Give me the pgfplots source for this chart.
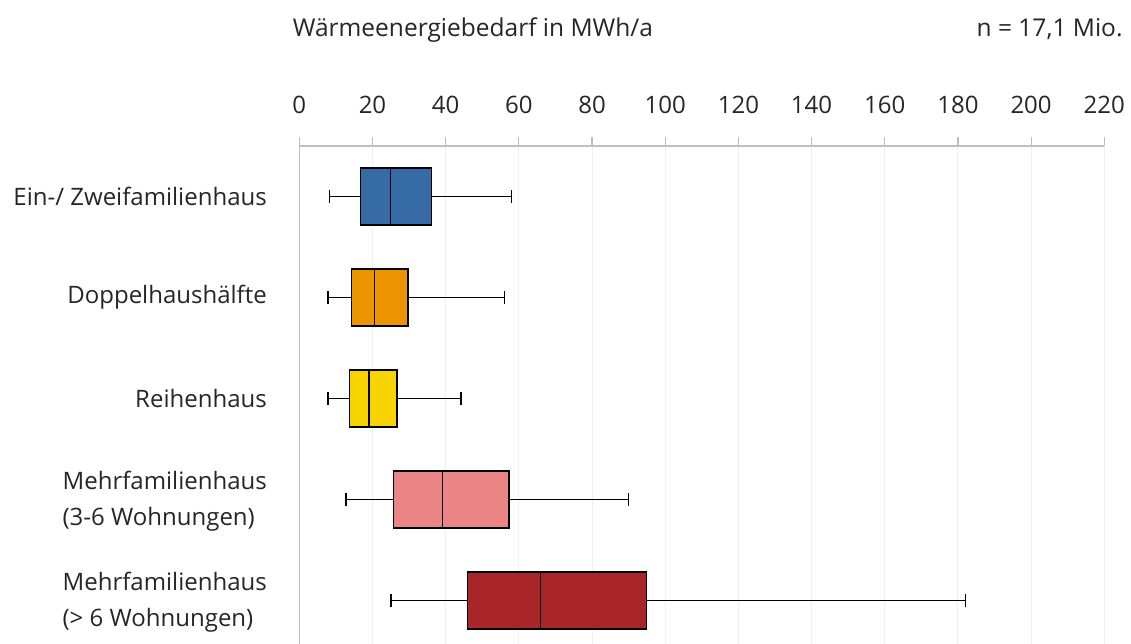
\documentclass[border=0pt]{standalone}
\usepackage{pgfplots}
\pgfplotsset{compat=1.18}
\usepgfplotslibrary{statistics}
\usepackage{fontspec}
\setmainfont{Open Sans}
\definecolor{cEZ}{HTML}{376BA6}
\definecolor{cDH}{HTML}{EB9400}
\definecolor{cRH}{HTML}{F7D300}
\definecolor{cMF}{HTML}{EB8485}
\definecolor{cMG}{HTML}{A8262A}
\newcommand{\lbl}{\fontsize{24bp}{36bp}\selectfont}
\newcommand{\ttl}{\fontsize{24.5bp}{36bp}\selectfont}
\begin{document}
\begin{tikzpicture}
\begin{axis}[
  at={(0,0)}, anchor=north west, scale only axis,
  x=3.659bp, y=101bp, y dir=reverse,
  xmin=0, xmax=220, ymin=0.5, ymax=5.43,
  axis x line*=top, axis y line*=left,
  axis line style={draw=black!25, line width=1.2bp},
  xtick={0,20,...,220}, ytick=\empty,
  tick align=outside, major tick length=9bp,
  xtick style={draw=black!25, line width=1.2bp},
  xmajorgrids, major grid style={draw=black!6, line width=1bp},
  xticklabel style={font=\lbl, anchor=base, yshift=24bp, text=black!85},
  /pgf/number format/assume math mode=true,
  clip=false,
  boxplot/draw direction=x,
  boxplot/box extend=0.564,
  boxplot/whisker extend=0.12,
  boxplot/every whisker/.style={line width=1.5bp},
  boxplot/every median/.style={line width=1.5bp},
  boxplot/every box/.style={line width=1.3bp},
]
\addplot[boxplot prepared={draw position=1, lower whisker=8.2, lower quartile=16.7, median=24.9, upper quartile=36.1, upper whisker=58.0}, draw=black, fill=cEZ] coordinates {};
\addplot[boxplot prepared={draw position=2, lower whisker=7.8, lower quartile=14.3, median=20.5, upper quartile=29.7, upper whisker=56.1}, draw=black, fill=cDH] coordinates {};
\addplot[boxplot prepared={draw position=3, lower whisker=7.8, lower quartile=13.7, median=19.1, upper quartile=26.7, upper whisker=44.2}, draw=black, fill=cRH] coordinates {};
\addplot[boxplot prepared={draw position=4, lower whisker=12.8, lower quartile=25.7, median=39.2, upper quartile=57.3, upper whisker=90.0}, draw=black, fill=cMF] coordinates {};
\addplot[boxplot prepared={draw position=5, lower whisker=25.1, lower quartile=46.0, median=65.9, upper quartile=94.9, upper whisker=182.1}, draw=black, fill=cMG] coordinates {};
\node[anchor=east, align=right, font=\lbl, text=black!85, xshift=-29bp] at (axis cs:0,1) {Ein-/ Zweifamilienhaus};
\node[anchor=east, align=right, font=\lbl, text=black!85, xshift=-29bp] at (axis cs:0,2) {Doppelhaushälfte};
\node[anchor=east, align=right, font=\lbl, text=black!85, xshift=-29bp] at (axis cs:0,3) {Reihenhaus};
\node[anchor=east, align=left, font=\lbl, text=black!85, xshift=-29bp, yshift=-2bp] at (axis cs:0,4) {Mehrfamilienhaus\\(3-6 Wohnungen)};
\node[anchor=east, align=left, font=\lbl, text=black!85, xshift=-29bp, yshift=-2bp] at (axis cs:0,5) {Mehrfamilienhaus\\(> 6 Wohnungen)};
\end{axis}
\node[anchor=base west, font=\ttl, text=black!85, inner sep=0pt] at (-6.6bp,109bp) {Wärmeenergiebedarf in MWh/a};
\node[anchor=base east, font=\ttl, text=black!85, inner sep=0pt] at (823.4bp,109bp) {n = 17,1 Mio.};
\pgfresetboundingbox
\path[use as bounding box] (-299.3bp,146bp) rectangle (831.7bp,-498bp);
\end{tikzpicture}
\end{document}
